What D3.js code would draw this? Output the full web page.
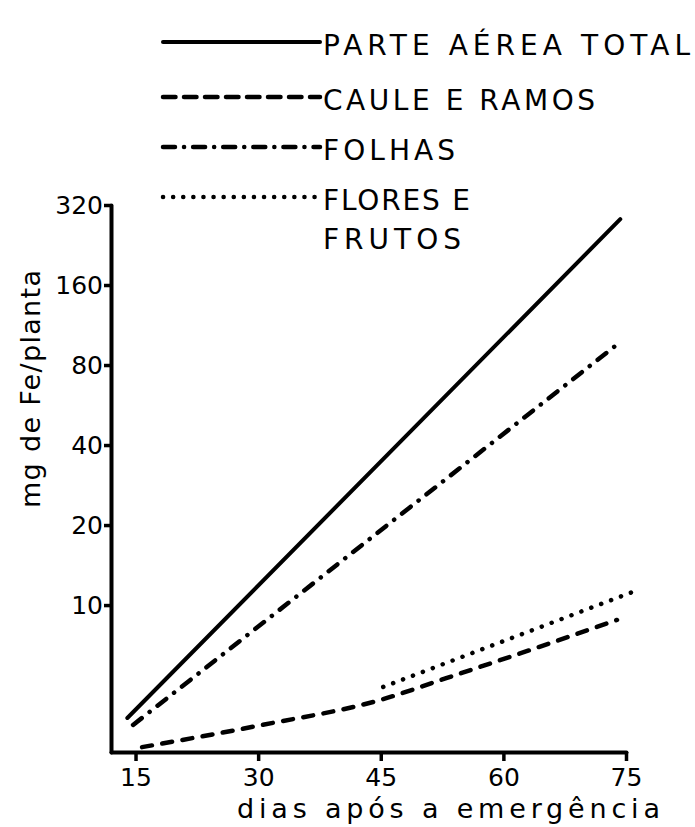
<!DOCTYPE html>
<html>
<head>
<meta charset="utf-8">
<script src="https://cdn.jsdelivr.net/npm/d3@7"></script>
<style>
  body { margin: 0; background: #fff; }
  svg text { font-family: "DejaVu Sans", sans-serif; fill: #000; }
</style>
</head>
<body>
<svg width="695" height="827"></svg>
<script>
// dados (dias, mg de Fe/planta)
var xTicks = [15, 30, 45, 60, 75];
var yTicks = [10, 20, 40, 80, 160, 320];

var parteAerea = [[14.0, 3.76], [74.3, 283]];
var folhas = [[14.7, 3.54], [74.0, 96]];
var cauleRamos = [[15.8, 2.92], [30.5, 3.54], [44.9, 4.39], [53.1, 5.32], [63.3, 6.78], [73.9, 8.79]];
var floresFrutos = [[45.3, 4.92], [75.8, 11.2]];

var legendLabels = [["PARTE AÉREA TOTAL"], ["CAULE E RAMOS"], ["FOLHAS"], ["FLORES E", "FRUTOS"]];

var svg = d3.select("svg");

// escalas
var x = d3.scaleLinear().domain([12, 75]).range([111, 626]);
var y = d3.scaleLog().base(2).domain([2.8, 320]).range([752, 205]);

// tracejados com pontas redondas: o traço visível fica maior que o valor
var series = [
  { data: parteAerea, dash: null, legDash: null, width: 4 },
  { data: cauleRamos, dash: "10,10.5", legDash: "12.5,8.5", width: 4.5 },
  { data: folhas, dash: "11,10,0.1,10", legDash: "12,9,0.1,9", width: 4.5 },
  { data: floresFrutos, dash: "0.1,10.5", legDash: "0.1,10", width: 4.5 }
];

var line = d3.line()
  .curve(d3.curveMonotoneX)
  .x(function(d) { return x(d[0]); })
  .y(function(d) { return y(d[1]); });

// eixos
var xAxis = svg.append("g")
  .attr("transform", "translate(0,752)")
  .call(d3.axisBottom(x).tickValues(xTicks).tickSize(9).tickSizeOuter(0).tickPadding(7));

var yAxis = svg.append("g")
  .attr("transform", "translate(111,0)")
  .call(d3.axisLeft(y).tickValues(yTicks).tickFormat(d3.format("d")).tickSize(7).tickSizeOuter(0).tickPadding(1));

[xAxis, yAxis].forEach(function(a) {
  a.select(".domain").attr("stroke", "#000").attr("stroke-width", 4).attr("stroke-linecap", "round");
  a.selectAll(".tick line").attr("stroke", "#000").attr("stroke-width", 3.5);
  a.selectAll(".tick text").attr("font-size", 25).attr("fill", "#000")
    .attr("font-family", "'DejaVu Sans Condensed', 'DejaVu Sans', sans-serif");
});

// linhas
series.forEach(function(s) {
  svg.append("path")
    .datum(s.data)
    .attr("d", line)
    .attr("fill", "none")
    .attr("stroke", "#000")
    .attr("stroke-width", s.width)
    .attr("stroke-linecap", "round")
    .attr("stroke-dasharray", s.dash);
});

// legenda
var legY = [42, 97, 147, 197];
var legLen = [[367], [272], [132], [147, 138]];
series.forEach(function(s, i) {
  svg.append("line")
    .attr("x1", 163).attr("x2", 320)
    .attr("y1", legY[i]).attr("y2", legY[i])
    .attr("stroke", "#000")
    .attr("stroke-width", s.width)
    .attr("stroke-linecap", "round")
    .attr("stroke-dasharray", s.legDash);
  legendLabels[i].forEach(function(t, j) {
    svg.append("text")
      .attr("x", 323)
      .attr("y", legY[i] + 13 + j * 39)
      .attr("font-size", 28)
      .attr("textLength", legLen[i][j])
      .attr("lengthAdjust", "spacing")
      .text(t);
  });
});

// títulos dos eixos
svg.append("text")
  .attr("x", 237).attr("y", 818)
  .attr("font-size", 27)
  .attr("textLength", 423)
  .attr("lengthAdjust", "spacing")
  .text("dias após a emergência");

svg.append("text")
  .attr("transform", "translate(40,508) rotate(-90)")
  .attr("font-size", 27)
  .attr("textLength", 238)
  .attr("lengthAdjust", "spacing")
  .text("mg de Fe/planta");
</script>
</body>
</html>
